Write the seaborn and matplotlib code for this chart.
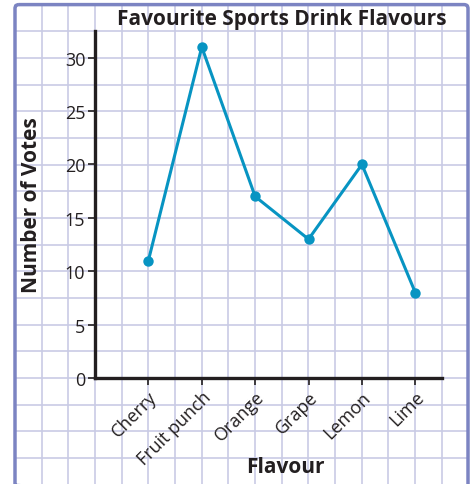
import numpy as np
import pandas as pd
import matplotlib.pyplot as plt
from matplotlib.patches import FancyBboxPatch
import seaborn as sns

flavours = ['Cherry', 'Fruit punch', 'Orange', 'Grape', 'Lemon', 'Lime']
votes = [11, 31, 17, 13, 20, 8]
y_ticks = [0, 5, 10, 15, 20, 25, 30]

df = pd.DataFrame({'pos': np.arange(len(flavours)), 'votes': votes})

sns.set_style('white')
plt.rcParams['font.family'] = ['Open Sans', 'DejaVu Sans']
ink = '#231f20'
line_col = '#0794c2'
grid_col = '#c9cbe5'
border_col = '#7c84c2'

W, H = 473, 485
fig = plt.figure(figsize=(W / 100, H / 100), dpi=100)

# graph paper background, in pixel units
bg = fig.add_axes([0, 0, 1, 1])
bg.set_xlim(0, W)
bg.set_ylim(H, 0)
bg.axis('off')
cell = 80 / 3
left, top, right, bottom = 15, 5.6, 468, 490
for x in np.arange(left, right, cell):
    bg.plot([x, x], [top, bottom], color=grid_col, lw=1.2, zorder=1)
for y in np.arange(top, bottom, cell):
    bg.plot([left, right], [y, y], color=grid_col, lw=1.2, zorder=1)
bg.add_patch(FancyBboxPatch((left, top), right - left, bottom - top,
                            boxstyle='round,pad=0,rounding_size=4',
                            fill=False, ec=border_col, lw=2.5, zorder=2))

ax = fig.add_axes([95 / W, 106 / H, (442 - 95) / W, (453 - 106) / H])
ax.patch.set_alpha(0)
sns.lineplot(data=df, x='pos', y='votes', ax=ax, color=line_col, lw=2.2,
             marker='o', markersize=7.5, markeredgewidth=0)

ax.set_xlim(-1, 5.5)
ax.set_ylim(0, 32.5)
ax.set_yticks(y_ticks)
ax.set_xticks(df['pos'])
ax.set_xticklabels(flavours, rotation=45, ha='right', rotation_mode='anchor')
for s in ['top', 'right']:
    ax.spines[s].set_visible(False)
for s in ['left', 'bottom']:
    ax.spines[s].set_color(ink)
    ax.spines[s].set_linewidth(2.4)
ax.tick_params(axis='both', direction='out', length=5, width=1.2, colors=ink,
               labelsize=13, labelcolor=ink, bottom=True, left=True, pad=2)

ax.set_xlabel('Flavour', fontsize=15, fontweight='bold', color=ink)
ax.set_ylabel('Number of Votes', fontsize=15, fontweight='bold', color=ink)
ax.xaxis.set_label_coords((285 - 95) / (442 - 95), -(457 - 379) / (379 - 32))
ax.yaxis.set_label_coords(-(95 - 42) / (442 - 95), 0.5)
fig.text(282 / W, 1 - 20 / H, 'Favourite Sports Drink Flavours', fontsize=15,
         fontweight='bold', color=ink, ha='center', va='center')

fig.savefig('out.png', dpi=100)
